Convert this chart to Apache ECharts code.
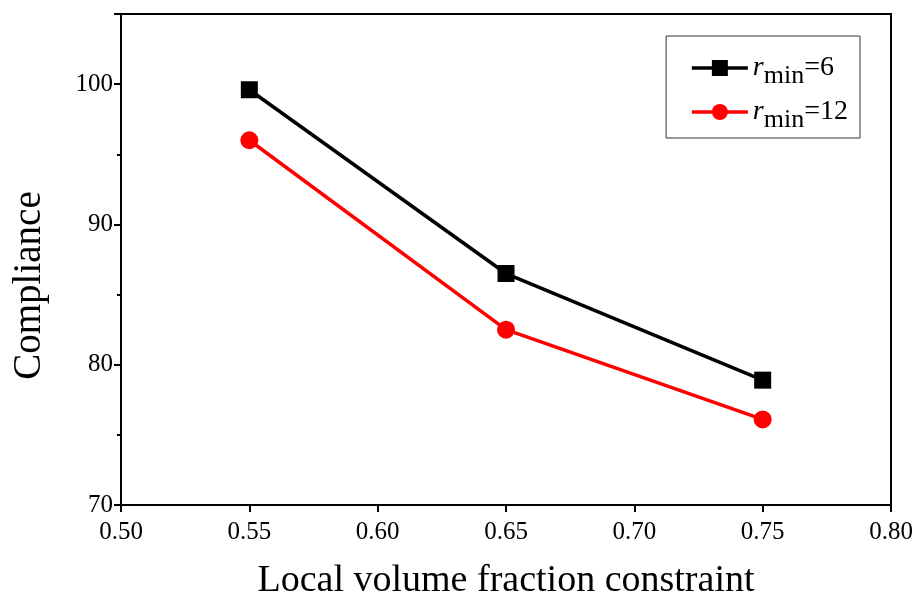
<!DOCTYPE html>
<html>
<head>
<meta charset="utf-8">
<script src="https://cdn.jsdelivr.net/npm/echarts@6/dist/echarts.min.js"></script>
<style>
  html, body { margin: 0; padding: 0; background: #fff; }
  #chart { width: 919px; height: 597px; }
</style>
</head>
<body>
<div id="chart"></div>
<script>
// volume fraction constraint (x) and compliance (y)
const fractions = [0.55, 0.65, 0.75];
const rmin6 = [99.6, 86.5, 78.9];
const rmin12 = [96.0, 82.5, 76.1];
const xTicks = [0.50, 0.55, 0.60, 0.65, 0.70, 0.75, 0.80];
const yTicks = [70, 80, 90, 100];

const chart = echarts.init(document.getElementById('chart'));
const serif = 'Liberation Serif';

function pairs(ys) {
  return fractions.map((x, i) => [x, ys[i]]);
}

const legendRich = {
  i: { fontFamily: serif, fontStyle: 'italic', fontSize: 28, color: '#000' },
  s: { fontFamily: serif, fontSize: 26, color: '#000', padding: [16, 0, 0, 0] },
  n: { fontFamily: serif, fontSize: 28, color: '#000' }
};

const option = {
  backgroundColor: '#fff',
  animation: false,
  grid: {
    left: 121, right: 28, top: 14, bottom: 92,
    outerBoundsMode: 'none', containLabel: false,
    show: true, borderColor: '#000', borderWidth: 2, backgroundColor: 'transparent'
  },
  legend: {
    right: 59, top: 36,
    orient: 'vertical',
    padding: [18, 12, 5, 24],
    itemGap: 9,
    itemWidth: 56, itemHeight: 20,
    borderColor: '#333', borderWidth: 1,
    backgroundColor: '#fff',
    lineStyle: { width: 3.5 },
    formatter: function (name) {
      return name === 'r6' ? '{i|r}{s|min}{n|=6}' : '{i|r}{s|min}{n|=12}';
    },
    textStyle: { rich: legendRich }
  },
  xAxis: {
    type: 'value',
    min: 0.50, max: 0.80, interval: 0.05,
    name: 'Local volume fraction constraint',
    nameLocation: 'middle', nameGap: 57,
    nameTextStyle: { fontFamily: serif, fontSize: 38, color: '#000' },
    axisLine: { onZero: false, lineStyle: { color: '#000', width: 2 } },
    axisTick: { show: true, inside: false, length: 7, lineStyle: { color: '#000', width: 2 } },
    axisLabel: {
      fontFamily: serif, fontSize: 25, color: '#000', margin: 15,
      formatter: v => v.toFixed(2)
    },
    splitLine: { show: false }
  },
  yAxis: {
    type: 'value',
    min: 70, max: 105, interval: 10,
    name: 'Compliance',
    nameLocation: 'middle', nameGap: 72,
    nameTextStyle: { fontFamily: serif, fontSize: 39, color: '#000', padding: [0, 52, 0, 0] },
    axisLine: { onZero: false, lineStyle: { color: '#000', width: 2 } },
    axisTick: { show: true, inside: false, length: 7, lineStyle: { color: '#000', width: 2 } },
    minorTick: { show: true, splitNumber: 2, length: 4, lineStyle: { color: '#000', width: 2 } },
    axisLabel: {
      fontFamily: serif, fontSize: 25, color: '#000', margin: 8,
      formatter: v => yTicks.indexOf(v) >= 0 ? String(v) : ''
    },
    splitLine: { show: false }
  },
  series: [
    {
      name: 'r6', type: 'line', data: pairs(rmin6),
      symbol: 'rect', symbolSize: 17,
      lineStyle: { color: '#000', width: 3.5 },
      itemStyle: { color: '#000' }
    },
    {
      name: 'r12', type: 'line', data: pairs(rmin12),
      symbol: 'circle', symbolSize: 18,
      lineStyle: { color: '#ff0000', width: 3.5 },
      itemStyle: { color: '#ff0000' }
    }
  ]
};

chart.setOption(option);
</script>
</body>
</html>
